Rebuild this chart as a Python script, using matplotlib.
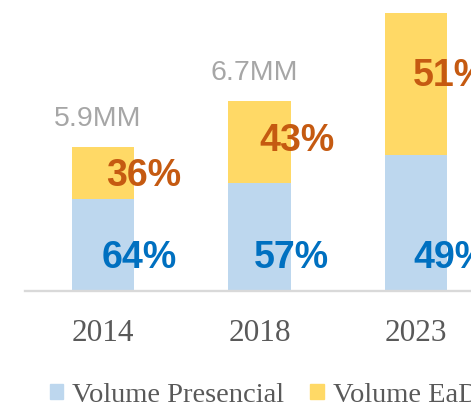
import matplotlib
matplotlib.use("Agg")
import matplotlib.pyplot as plt
from matplotlib.patches import Patch
import numpy as np

# data
years = ["2014", "2018", "2023"]
bar_height = [5.9, 7.76, 11.35]          # drawn heights (as in the original chart)
total_labels = ["5.9MM", "6.7MM", ""]
pct_presencial = [64, 57, 49]
pct_ead = [36, 43, 51]

blue_bar = "#bdd7ee"
yellow_bar = "#ffd966"
blue_txt = "#0070c0"
orange_txt = "#c55a11"
gray_txt = "#a6a6a6"
tick_col = "#595959"

# where the EaD labels sit inside the yellow part (fraction of its height)
ead_lbl_pos = [0.44, 0.51, 0.56]
pres_lbl_dx = [-0.01, -0.04, -0.02]

fig = plt.figure(figsize=(4.71, 4.05), dpi=100)
# axes spans past the right edge, the original is cropped there
ax = fig.add_axes([25 / 471, 114 / 405, 469.25 / 471, 291 / 405])

x = np.arange(len(years))
h = np.array(bar_height)
pres = h * np.array(pct_presencial) / 100
ead = h - pres

ax.bar(x, pres, width=0.40, color=blue_bar, zorder=2)
ax.bar(x, ead, width=0.40, bottom=pres, color=yellow_bar, zorder=2)

ax.set_xlim(-0.5, 2.5)
ax.set_ylim(0, 11.9)

for i in range(len(years)):
    ax.text(x[i] + pres_lbl_dx[i], 1.35, f"{pct_presencial[i]}%", color=blue_txt,
            fontsize=27, fontweight="bold", family="Liberation Sans",
            ha="left", va="center", zorder=3)
    ax.text(x[i] + 0.02 - 0.02 * i, pres[i] + ead[i] * ead_lbl_pos[i],
            f"{pct_ead[i]}%", color=orange_txt, fontsize=27, fontweight="bold",
            family="Liberation Sans", ha="left", va="center", zorder=3)
    if total_labels[i]:
        ax.text(x[i] - 0.035, h[i] + 1.15, total_labels[i], color=gray_txt,
                fontsize=20.5, family="Liberation Sans", ha="center", va="center")

ax.set_xticks(x)
ax.set_xticklabels(years, family="Liberation Serif", fontsize=22.5, color=tick_col)
ax.tick_params(axis="x", length=0, pad=20)
ax.set_yticks([])
for s in ["top", "right", "left"]:
    ax.spines[s].set_visible(False)
ax.spines["bottom"].set_color("#d9d9d9")
ax.spines["bottom"].set_linewidth(1.7)

handles = [Patch(color=blue_bar, label="Volume Presencial"),
           Patch(color=yellow_bar, label="Volume EaD")]
fig.legend(handles=handles, loc="center left", bbox_to_anchor=(50 / 471, 1 - 395 / 405),
           ncol=2, frameon=False, handlelength=0.46, handleheight=0.46,
           handletextpad=0.32, columnspacing=0.92, borderpad=0, borderaxespad=0,
           prop={"family": "Liberation Serif", "size": 20.5}, labelcolor=tick_col)

fig.savefig("out.png", dpi=100)
